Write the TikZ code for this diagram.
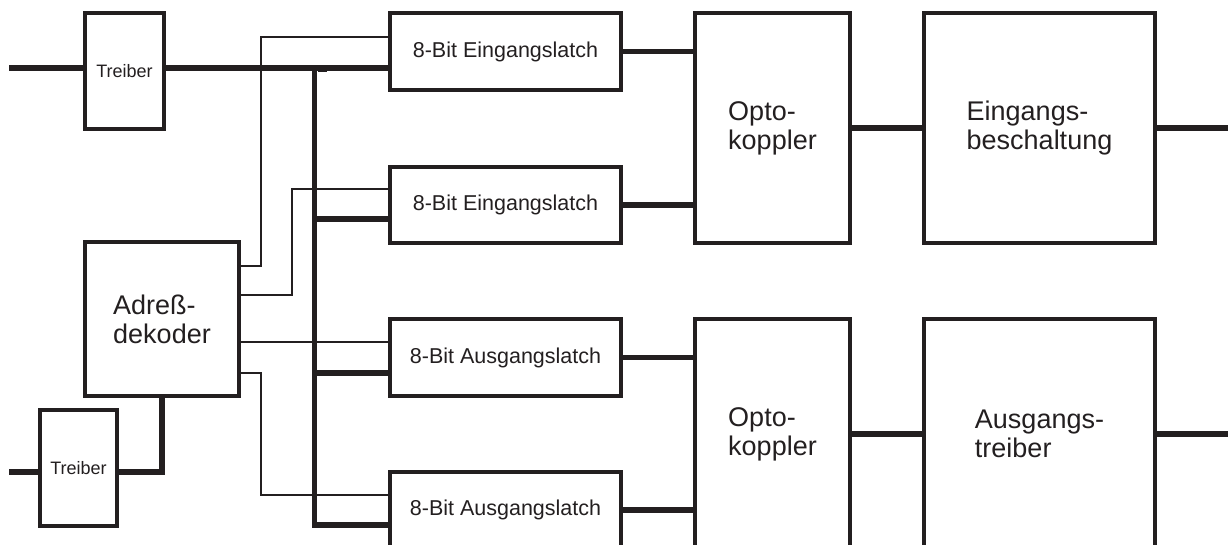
\documentclass[tikz,border=0pt]{standalone}
\usepackage{fontspec}
\setmainfont{Liberation Sans}
\definecolor{ink}{HTML}{231F20}
\begin{document}
\begin{tikzpicture}[x=1pt,y=-1pt,
  box/.style={draw=ink, line width=3.6pt, inner sep=0pt, outer sep=0pt, text=ink},
  tbox/.style={box, font=\fontsize{18}{21}\selectfont},
  lbox/.style={box, font=\fontsize{21.5}{25}\selectfont},
  bbox/.style={box, align=left, font=\fontsize{27}{29}\selectfont},
  bus/.style={draw=ink, line width=5.6pt, line join=miter, line cap=butt},
  sig/.style={draw=ink, line width=1.1pt, line join=miter}]
\useasboundingbox (0,0) rectangle (1228,544);
\clip (0,0) rectangle (1228,544);
% blocks
\node[tbox, minimum width=79pt, minimum height=116pt] (tr1) at (124.5,71) {Treiber};
\node[tbox, minimum width=77pt, minimum height=116pt] (tr2) at (78.5,468) {Treiber};
\node[bbox, minimum width=154pt, minimum height=154pt] (adr) at (162,319) {Adreß-\\dekoder};
\node[lbox, minimum width=231pt, minimum height=77pt] (latch1) at (505.5,51.5) {8-Bit Eingangslatch};
\node[lbox, minimum width=231pt, minimum height=76pt] (latch2) at (505.5,205) {8-Bit Eingangslatch};
\node[lbox, minimum width=231pt, minimum height=77pt] (latch3) at (505.5,357.5) {8-Bit Ausgangslatch};
\node[lbox, minimum width=231pt, minimum height=76pt] (latch4) at (505.5,510) {8-Bit Ausgangslatch};
\node[bbox, minimum width=155pt, minimum height=230pt] (opto1) at (772.5,128) {Opto-\\koppler};
\node[bbox, minimum width=155pt, minimum height=230pt] (opto2) at (772.5,434) {Opto-\\koppler};
\node[bbox, minimum width=231pt, minimum height=230pt] (eing) at (1039.5,128) {Eingangs-\\beschaltung};
\node[bbox, minimum width=231pt, minimum height=230pt] (aus) at (1039.5,434) {Ausgangs-\\treiber};
% data bus
\coordinate (in1) at (9,68);
\draw[bus] (in1) -- (in1 -| tr1.west);
\draw[bus] (tr1.east |- in1) -- (latch1.west |- in1);
\coordinate (bt) at (314.5,68);
\coordinate (bb) at (314.5,525);
\draw[bus] (bt) -- (bb) -- (bb -| latch4.west);
\coordinate (j2) at (314.5,219);
\coordinate (j3) at (314.5,373);
\draw[bus] (j2) -- (j2 -| latch2.west);
\draw[bus] (j3) -- (j3 -| latch3.west);
\fill[ink] (318,65) rectangle (327,71.5);
% lower driver
\coordinate (in2) at (9,472);
\coordinate (c2) at (162,472);
\draw[bus] (in2) -- (in2 -| tr2.west);
\draw[bus] (c2 -| tr2.east) -- (c2) -- (c2 |- adr.south);
% latches to optocouplers
\draw[bus] (latch1.east) -- (latch1.east -| opto1.west);
\draw[bus] (latch2.east) -- (latch2.east -| opto1.west);
\draw[bus] (latch3.east) -- (latch3.east -| opto2.west);
\draw[bus] (latch4.east) -- (latch4.east -| opto2.west);
\draw[bus] (opto1.east) -- (eing.west);
\draw[bus] (opto2.east) -- (aus.west);
\coordinate (out1) at (1228,128);
\coordinate (out2) at (1228,434);
\draw[bus] (eing.east) -- (out1);
\draw[bus] (aus.east) -- (out2);
% select lines
\coordinate (s1a) at (261,266); \coordinate (s1b) at (261,37);
\draw[sig] (s1a -| adr.east) -- (s1a) -- (s1b) -- (s1b -| latch1.west);
\coordinate (s2a) at (292,295); \coordinate (s2b) at (292,189);
\draw[sig] (s2a -| adr.east) -- (s2a) -- (s2b) -- (s2b -| latch2.west);
\coordinate (s3) at (261,342);
\draw[sig] (s3 -| adr.east) -- (s3 -| latch3.west);
\coordinate (s4a) at (261,373); \coordinate (s4b) at (261,495);
\draw[sig] (s4a -| adr.east) -- (s4a) -- (s4b) -- (s4b -| latch4.west);
\end{tikzpicture}
\end{document}
